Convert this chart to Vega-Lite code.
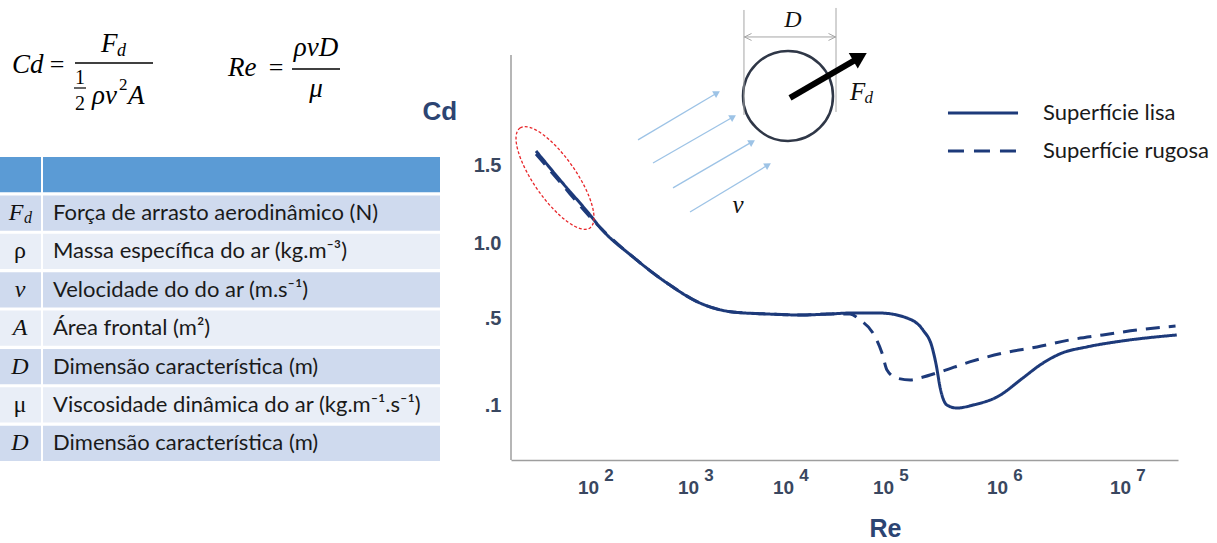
{
"$schema":"https://vega.github.io/schema/vega-lite/v6.json",
"padding":0,
"background":"white",
"config":{"view":{"stroke":null}},
"bounds":"full",
"spacing":-18,
"hconcat":[
{"bounds":"flush","spacing":0,"vconcat":[
{"width":440,"height":157,"data":{"values":[{}]},
"layer":[
{"mark":{"type":"text","text":"Cd","font":"Liberation Serif","fontStyle":"italic","fontSize":27,"align":"left","baseline":"middle"},"encoding":{"x":{"datum":12,"type":"quantitative","scale":{"domain":[0,440],"nice":false,"zero":false},"axis":null},"y":{"datum":65,"type":"quantitative","scale":{"domain":[0,157],"nice":false,"zero":false,"reverse":true},"axis":null}}},
{"mark":{"type":"text","text":"=","font":"Liberation Serif","fontSize":26,"align":"center","baseline":"middle"},"encoding":{"x":{"datum":57,"type":"quantitative","axis":null},"y":{"datum":65,"type":"quantitative","axis":null}}},
{"mark":{"type":"rule","color":"#000","strokeWidth":1.3},"encoding":{"x":{"datum":75,"type":"quantitative","axis":null},"x2":{"datum":153},"y":{"datum":63,"type":"quantitative","axis":null}}},
{"mark":{"type":"text","text":"F","font":"Liberation Serif","fontStyle":"italic","fontSize":27,"align":"left","baseline":"middle"},"encoding":{"x":{"datum":101,"type":"quantitative","axis":null},"y":{"datum":44,"type":"quantitative","axis":null}}},
{"mark":{"type":"text","text":"d","font":"Liberation Serif","fontStyle":"italic","fontSize":18,"align":"left","baseline":"middle"},"encoding":{"x":{"datum":117,"type":"quantitative","axis":null},"y":{"datum":51,"type":"quantitative","axis":null}}},
{"mark":{"type":"text","text":"1","font":"Liberation Serif","fontSize":20,"align":"center","baseline":"middle"},"encoding":{"x":{"datum":80,"type":"quantitative","axis":null},"y":{"datum":78,"type":"quantitative","axis":null}}},
{"mark":{"type":"rule","color":"#000","strokeWidth":1.2},"encoding":{"x":{"datum":74,"type":"quantitative","axis":null},"x2":{"datum":86},"y":{"datum":88,"type":"quantitative","axis":null}}},
{"mark":{"type":"text","text":"2","font":"Liberation Serif","fontSize":20,"align":"center","baseline":"middle"},"encoding":{"x":{"datum":80,"type":"quantitative","axis":null},"y":{"datum":104,"type":"quantitative","axis":null}}},
{"mark":{"type":"text","text":"ρv","font":"Liberation Serif","fontStyle":"italic","fontSize":27,"align":"left","baseline":"middle"},"encoding":{"x":{"datum":92,"type":"quantitative","axis":null},"y":{"datum":96,"type":"quantitative","axis":null}}},
{"mark":{"type":"text","text":"2","font":"Liberation Serif","fontSize":17,"align":"left","baseline":"middle"},"encoding":{"x":{"datum":119,"type":"quantitative","axis":null},"y":{"datum":85,"type":"quantitative","axis":null}}},
{"mark":{"type":"text","text":"A","font":"Liberation Serif","fontStyle":"italic","fontSize":27,"align":"left","baseline":"middle"},"encoding":{"x":{"datum":128,"type":"quantitative","axis":null},"y":{"datum":96,"type":"quantitative","axis":null}}},
{"mark":{"type":"text","text":"Re","font":"Liberation Serif","fontStyle":"italic","fontSize":27,"align":"left","baseline":"middle"},"encoding":{"x":{"datum":228,"type":"quantitative","axis":null},"y":{"datum":68,"type":"quantitative","axis":null}}},
{"mark":{"type":"text","text":"=","font":"Liberation Serif","fontSize":26,"align":"center","baseline":"middle"},"encoding":{"x":{"datum":276,"type":"quantitative","axis":null},"y":{"datum":68,"type":"quantitative","axis":null}}},
{"mark":{"type":"rule","color":"#000","strokeWidth":1.3},"encoding":{"x":{"datum":292,"type":"quantitative","axis":null},"x2":{"datum":340},"y":{"datum":69,"type":"quantitative","axis":null}}},
{"mark":{"type":"text","text":"ρvD","font":"Liberation Serif","fontStyle":"italic","fontSize":27,"align":"center","baseline":"middle"},"encoding":{"x":{"datum":316,"type":"quantitative","axis":null},"y":{"datum":48,"type":"quantitative","axis":null}}},
{"mark":{"type":"text","text":"μ","font":"Liberation Serif","fontStyle":"italic","fontSize":27,"align":"center","baseline":"middle"},"encoding":{"x":{"datum":316,"type":"quantitative","axis":null},"y":{"datum":89,"type":"quantitative","axis":null}}}
]},
{"width":440,"height":304,
"data":{"values":[
{"row":0,"sym":"","desc":"","kind":"header"},
{"row":1,"sym":"F","desc":"Força de arrasto aerodinâmico (N)","kind":"a"},
{"row":2,"sym":"ρ","desc":"Massa específica do ar (kg.m⁻³)","kind":"b"},
{"row":3,"sym":"v","desc":"Velocidade do do ar (m.s⁻¹)","kind":"a"},
{"row":4,"sym":"A","desc":"Área frontal (m²)","kind":"b"},
{"row":5,"sym":"D","desc":"Dimensão característica (m)","kind":"a"},
{"row":6,"sym":"μ","desc":"Viscosidade dinâmica do ar (kg.m⁻¹.s⁻¹)","kind":"b"},
{"row":7,"sym":"D","desc":"Dimensão característica (m)","kind":"a"}
]},
"layer":[
{"mark":{"type":"rect"},"encoding":{"x":{"datum":0,"type":"quantitative","scale":{"domain":[0,440],"nice":false,"zero":false},"axis":null},"x2":{"datum":41},"y":{"field":"row","type":"ordinal","scale":{"paddingInner":0.08,"paddingOuter":0},"axis":null},"color":{"field":"kind","type":"nominal","scale":{"domain":["header","a","b"],"range":["#5B9BD5","#CFDAEE","#E9EEF7"]},"legend":null}}},
{"mark":{"type":"rect"},"encoding":{"x":{"datum":43,"type":"quantitative","axis":null},"x2":{"datum":440},"y":{"field":"row","type":"ordinal","axis":null},"color":{"field":"kind","type":"nominal","legend":null}}},
{"mark":{"type":"text","font":"Lato","fontSize":22,"color":"#1a1a1a","align":"left","baseline":"middle"},"encoding":{"x":{"datum":53,"type":"quantitative","axis":null},"y":{"field":"row","type":"ordinal","axis":null},"text":{"field":"desc","type":"nominal"}}},
{"transform":[{"filter":"datum.row > 1 && datum.sym != 'ρ' && datum.sym != 'μ'"}],"mark":{"type":"text","font":"Liberation Serif","fontStyle":"italic","fontSize":24,"color":"#111","align":"center","baseline":"middle"},"encoding":{"x":{"datum":20,"type":"quantitative","axis":null},"y":{"field":"row","type":"ordinal","axis":null},"text":{"field":"sym","type":"nominal"}}},
{"transform":[{"filter":"datum.sym == 'ρ' || datum.sym == 'μ'"}],"mark":{"type":"text","font":"Liberation Serif","fontSize":24,"color":"#111","align":"center","baseline":"middle"},"encoding":{"x":{"datum":20,"type":"quantitative","axis":null},"y":{"field":"row","type":"ordinal","axis":null},"text":{"field":"sym","type":"nominal"}}},
{"transform":[{"filter":"datum.row == 1"}],"mark":{"type":"text","font":"Liberation Serif","fontStyle":"italic","fontSize":24,"color":"#111","align":"center","baseline":"middle","dx":-4},"encoding":{"x":{"datum":20,"type":"quantitative","axis":null},"y":{"field":"row","type":"ordinal","axis":null},"text":{"field":"sym","type":"nominal"}}},
{"transform":[{"filter":"datum.row == 1"}],"mark":{"type":"text","text":"d","font":"Liberation Serif","fontStyle":"italic","fontSize":16,"color":"#111","align":"center","baseline":"middle","dx":8,"dy":5},"encoding":{"x":{"datum":20,"type":"quantitative","axis":null},"y":{"field":"row","type":"ordinal","axis":null}}}
]}
]},
{"width":667,"height":460,"data":{"values":[{}]},
"layer":[
{"data":{"values":[
{"logRe":1.48,"Cd":1.59,"surface":"Superfície lisa"},
{"logRe":1.72,"Cd":1.404,"surface":"Superfície lisa"},
{"logRe":2.02,"Cd":1.18,"surface":"Superfície lisa"},
{"logRe":2.12,"Cd":1.10,"surface":"Superfície lisa"},
{"logRe":2.45,"Cd":0.907,"surface":"Superfície lisa"},
{"logRe":2.79,"Cd":0.733,"surface":"Superfície lisa"},
{"logRe":3.126,"Cd":0.60,"surface":"Superfície lisa"},
{"logRe":3.47,"Cd":0.54,"surface":"Superfície lisa"},
{"logRe":3.83,"Cd":0.527,"surface":"Superfície lisa"},
{"logRe":4.17,"Cd":0.52,"surface":"Superfície lisa"},
{"logRe":4.47,"Cd":0.527,"surface":"Superfície lisa"},
{"logRe":4.67,"Cd":0.533,"surface":"Superfície lisa"},
{"logRe":4.97,"Cd":0.533,"surface":"Superfície lisa"},
{"logRe":5.21,"Cd":0.50,"surface":"Superfície lisa"},
{"logRe":5.35,"Cd":0.445,"surface":"Superfície lisa"},
{"logRe":5.43,"Cd":0.367,"surface":"Superfície lisa"},
{"logRe":5.47,"Cd":0.275,"surface":"Superfície lisa"},
{"logRe":5.50,"Cd":0.183,"surface":"Superfície lisa"},
{"logRe":5.56,"Cd":0.10,"surface":"Superfície lisa"},
{"logRe":5.65,"Cd":0.086,"surface":"Superfície lisa"},
{"logRe":5.79,"Cd":0.10,"surface":"Superfície lisa"},
{"logRe":6.0,"Cd":0.137,"surface":"Superfície lisa"},
{"logRe":6.21,"Cd":0.224,"surface":"Superfície lisa"},
{"logRe":6.35,"Cd":0.284,"surface":"Superfície lisa"},
{"logRe":6.52,"Cd":0.337,"surface":"Superfície lisa"},
{"logRe":6.73,"Cd":0.367,"surface":"Superfície lisa"},
{"logRe":7.0,"Cd":0.393,"surface":"Superfície lisa"},
{"logRe":7.46,"Cd":0.422,"surface":"Superfície lisa"},
{"logRe":1.48,"Cd":1.571,"surface":"Superfície rugosa"},
{"logRe":1.72,"Cd":1.391,"surface":"Superfície rugosa"},
{"logRe":2.02,"Cd":1.167,"surface":"Superfície rugosa"},
{"logRe":2.12,"Cd":1.10,"surface":"Superfície rugosa"},
{"logRe":2.45,"Cd":0.907,"surface":"Superfície rugosa"},
{"logRe":2.79,"Cd":0.733,"surface":"Superfície rugosa"},
{"logRe":3.126,"Cd":0.60,"surface":"Superfície rugosa"},
{"logRe":3.47,"Cd":0.54,"surface":"Superfície rugosa"},
{"logRe":3.83,"Cd":0.527,"surface":"Superfície rugosa"},
{"logRe":4.17,"Cd":0.52,"surface":"Superfície rugosa"},
{"logRe":4.47,"Cd":0.527,"surface":"Superfície rugosa"},
{"logRe":4.67,"Cd":0.527,"surface":"Superfície rugosa"},
{"logRe":4.77,"Cd":0.491,"surface":"Superfície rugosa"},
{"logRe":4.90,"Cd":0.431,"surface":"Superfície rugosa"},
{"logRe":4.99,"Cd":0.339,"surface":"Superfície rugosa"},
{"logRe":5.035,"Cd":0.261,"surface":"Superfície rugosa"},
{"logRe":5.12,"Cd":0.224,"surface":"Superfície rugosa"},
{"logRe":5.24,"Cd":0.215,"surface":"Superfície rugosa"},
{"logRe":5.32,"Cd":0.224,"surface":"Superfície rugosa"},
{"logRe":5.50,"Cd":0.252,"surface":"Superfície rugosa"},
{"logRe":5.76,"Cd":0.298,"surface":"Superfície rugosa"},
{"logRe":6.05,"Cd":0.339,"surface":"Superfície rugosa"},
{"logRe":6.325,"Cd":0.367,"surface":"Superfície rugosa"},
{"logRe":6.59,"Cd":0.399,"surface":"Superfície rugosa"},
{"logRe":6.86,"Cd":0.422,"surface":"Superfície rugosa"},
{"logRe":7.14,"Cd":0.445,"surface":"Superfície rugosa"},
{"logRe":7.45,"Cd":0.463,"surface":"Superfície rugosa"}
]},
"mark":{"type":"line","interpolate":"monotone","strokeWidth":3,"color":"#1d3a7a"},
"encoding":{
"x":{"field":"logRe","type":"quantitative","scale":{"domain":[1.23,2,3,4,5,6,7,7.47],"range":[0,77,177,272,372,486,609,667],"nice":false,"zero":false},
"axis":{"values":[2,3,4,5,6,7],"labelExpr":"'10'","ticks":false,"grid":false,"domainColor":"#9e9e9e","domainWidth":1.5,"labelPadding":18,"labelFont":"Liberation Sans","labelFontSize":19,"labelFontWeight":"bold","labelColor":"#394760","title":"Re","titleFont":"Liberation Sans","titleFontSize":25,"titleFontWeight":"bold","titleColor":"#2c4472","titleX":374,"titleY":68,"titleAlign":"center","titleBaseline":"middle"}},
"y":{"field":"Cd","type":"quantitative","scale":{"domain":[-0.153,0.1,0.5,1.0,1.5,2.558],"range":[460,405,318,243,165,0],"nice":false,"zero":false},
"axis":{"values":[0.1,0.5,1,1.5],"labelExpr":"datum.value == 1.5 ? '1.5' : datum.value == 1 ? '1.0' : datum.value == 0.5 ? '.5' : '.1'","domain":false,"ticks":false,"grid":false,"labelPadding":10,"labelFont":"Liberation Sans","labelFontSize":20,"labelFontWeight":"bold","labelColor":"#394760","title":"Cd","titleFont":"Liberation Sans","titleFontSize":26,"titleFontWeight":"bold","titleColor":"#2c4472","titleAngle":0,"titleX":-89,"titleY":111,"titleAlign":"left","titleBaseline":"middle"}},
"strokeDash":{"field":"surface","type":"nominal","scale":{"domain":["Superfície lisa","Superfície rugosa"],"range":[[1,0],[14,9]]},"legend":null}
}},
{"data":{"values":[{"exp":2,"sup":"2"},{"exp":3,"sup":"3"},{"exp":4,"sup":"4"},{"exp":5,"sup":"5"},{"exp":6,"sup":"6"},{"exp":7,"sup":"7"}]},
"mark":{"type":"text","font":"Liberation Sans","fontSize":17,"fontWeight":"bold","color":"#394760","dx":21,"dy":16,"baseline":"middle"},
"encoding":{"x":{"field":"exp","type":"quantitative"},"y":{"datum":-0.153,"type":"quantitative"},"text":{"field":"sup","type":"nominal"}}},
{"mark":{"type":"rule","color":"#9e9e9e","strokeWidth":1.5},"encoding":{"x":{"datum":1.23,"type":"quantitative"},"y":{"datum":2.205,"type":"quantitative"},"y2":{"datum":-0.153}}},
{"mark":{"type":"point","shape":"M -1 0 A 1 0.344 0 1 1 1 0 A 1 0.344 0 1 1 -1 0 Z","size":14884,"angle":55,"filled":false,"stroke":"#e8262a","strokeWidth":1.3,"strokeDash":[3,2],"opacity":1},"encoding":{"x":{"datum":1.67,"type":"quantitative"},"y":{"datum":1.417,"type":"quantitative"}}},
{"mark":{"type":"point","shape":"circle","size":8100,"filled":false,"stroke":"#2f3747","strokeWidth":2.5,"opacity":1},"encoding":{"x":{"datum":4.05,"type":"quantitative"},"y":{"datum":1.943,"type":"quantitative"}}},
{"mark":{"type":"rule","color":"#a6a6a6","strokeWidth":1},"encoding":{"x":{"datum":3.589,"type":"quantitative"},"y":{"datum":2.494,"type":"quantitative"},"y2":{"datum":1.821}}},
{"mark":{"type":"rule","color":"#a6a6a6","strokeWidth":1},"encoding":{"x":{"datum":4.53,"type":"quantitative"},"y":{"datum":2.507,"type":"quantitative"},"y2":{"datum":1.840}}},
{"mark":{"type":"rule","color":"#a6a6a6","strokeWidth":1},"encoding":{"x":{"datum":3.589,"type":"quantitative"},"x2":{"datum":4.53},"y":{"datum":2.321,"type":"quantitative"}}},
{"mark":{"type":"point","shape":"M 1 -1 L -1 0 L 1 1","size":49,"filled":false,"stroke":"#a6a6a6","strokeWidth":1,"opacity":1},"encoding":{"x":{"datum":3.632,"type":"quantitative"},"y":{"datum":2.321,"type":"quantitative"}}},
{"mark":{"type":"point","shape":"M 1 -1 L -1 0 L 1 1","size":49,"angle":180,"filled":false,"stroke":"#a6a6a6","strokeWidth":1,"opacity":1},"encoding":{"x":{"datum":4.49,"type":"quantitative"},"y":{"datum":2.321,"type":"quantitative"}}},
{"mark":{"type":"text","text":"D","font":"Liberation Serif","fontStyle":"italic","fontSize":24,"align":"center","baseline":"middle","color":"#111"},"encoding":{"x":{"datum":4.10,"type":"quantitative"},"y":{"datum":2.43,"type":"quantitative"}}},
{"mark":{"type":"rule","color":"#000","strokeWidth":6},"encoding":{"x":{"datum":4.07,"type":"quantitative"},"y":{"datum":1.930,"type":"quantitative"},"x2":{"datum":4.72},"y2":{"datum":2.173}}},
{"mark":{"type":"point","shape":"triangle-right","size":324,"angle":330,"filled":true,"color":"#000","opacity":1},"encoding":{"x":{"datum":4.77,"type":"quantitative"},"y":{"datum":2.193,"type":"quantitative"}}},
{"mark":{"type":"text","text":"F","font":"Liberation Serif","fontStyle":"italic","fontSize":25,"align":"left","baseline":"middle","color":"#111"},"encoding":{"x":{"datum":4.67,"type":"quantitative"},"y":{"datum":1.968,"type":"quantitative"}}},
{"mark":{"type":"text","text":"d","font":"Liberation Serif","fontStyle":"italic","fontSize":17,"align":"left","baseline":"middle","color":"#111"},"encoding":{"x":{"datum":4.815,"type":"quantitative"},"y":{"datum":1.93,"type":"quantitative"}}},
{"data":{"values":[{"x1":2.50,"y1":1.661,"x2":3.305,"y2":1.962},{"x1":2.65,"y1":1.513,"x2":3.474,"y2":1.808},{"x1":2.85,"y1":1.353,"x2":3.674,"y2":1.648},{"x1":3.021,"y1":1.199,"x2":3.842,"y2":1.500}]},
"mark":{"type":"rule","color":"#9DC3E6","strokeWidth":1.3},"encoding":{"x":{"field":"x1","type":"quantitative"},"y":{"field":"y1","type":"quantitative"},"x2":{"field":"x2"},"y2":{"field":"y2"}}},
{"data":{"values":[{"x2":3.305,"y2":1.962},{"x2":3.474,"y2":1.808},{"x2":3.674,"y2":1.648},{"x2":3.842,"y2":1.500}]},
"mark":{"type":"point","shape":"triangle-right","size":60,"angle":329,"filled":true,"color":"#9DC3E6","opacity":1},"encoding":{"x":{"field":"x2","type":"quantitative"},"y":{"field":"y2","type":"quantitative"}}},
{"mark":{"type":"text","text":"v","font":"Liberation Serif","fontStyle":"italic","fontSize":25,"align":"center","baseline":"middle","color":"#111"},"encoding":{"x":{"datum":3.526,"type":"quantitative"},"y":{"datum":1.244,"type":"quantitative"}}},
{"mark":{"type":"rule","color":"#1d3a7a","strokeWidth":3},"encoding":{"x":{"datum":5.57,"type":"quantitative"},"x2":{"datum":6.171},"y":{"datum":1.834,"type":"quantitative"}}},
{"mark":{"type":"rule","color":"#1d3a7a","strokeWidth":3,"strokeDash":[16,10]},"encoding":{"x":{"datum":5.57,"type":"quantitative"},"x2":{"datum":6.171},"y":{"datum":1.59,"type":"quantitative"}}},
{"mark":{"type":"text","text":"Superfície lisa","font":"Lato","fontSize":22,"align":"left","baseline":"middle","color":"#1a1a1a"},"encoding":{"x":{"datum":6.374,"type":"quantitative"},"y":{"datum":1.834,"type":"quantitative"}}},
{"mark":{"type":"text","text":"Superfície rugosa","font":"Lato","fontSize":22,"align":"left","baseline":"middle","color":"#1a1a1a"},"encoding":{"x":{"datum":6.374,"type":"quantitative"},"y":{"datum":1.59,"type":"quantitative"}}}
]}
]
}
